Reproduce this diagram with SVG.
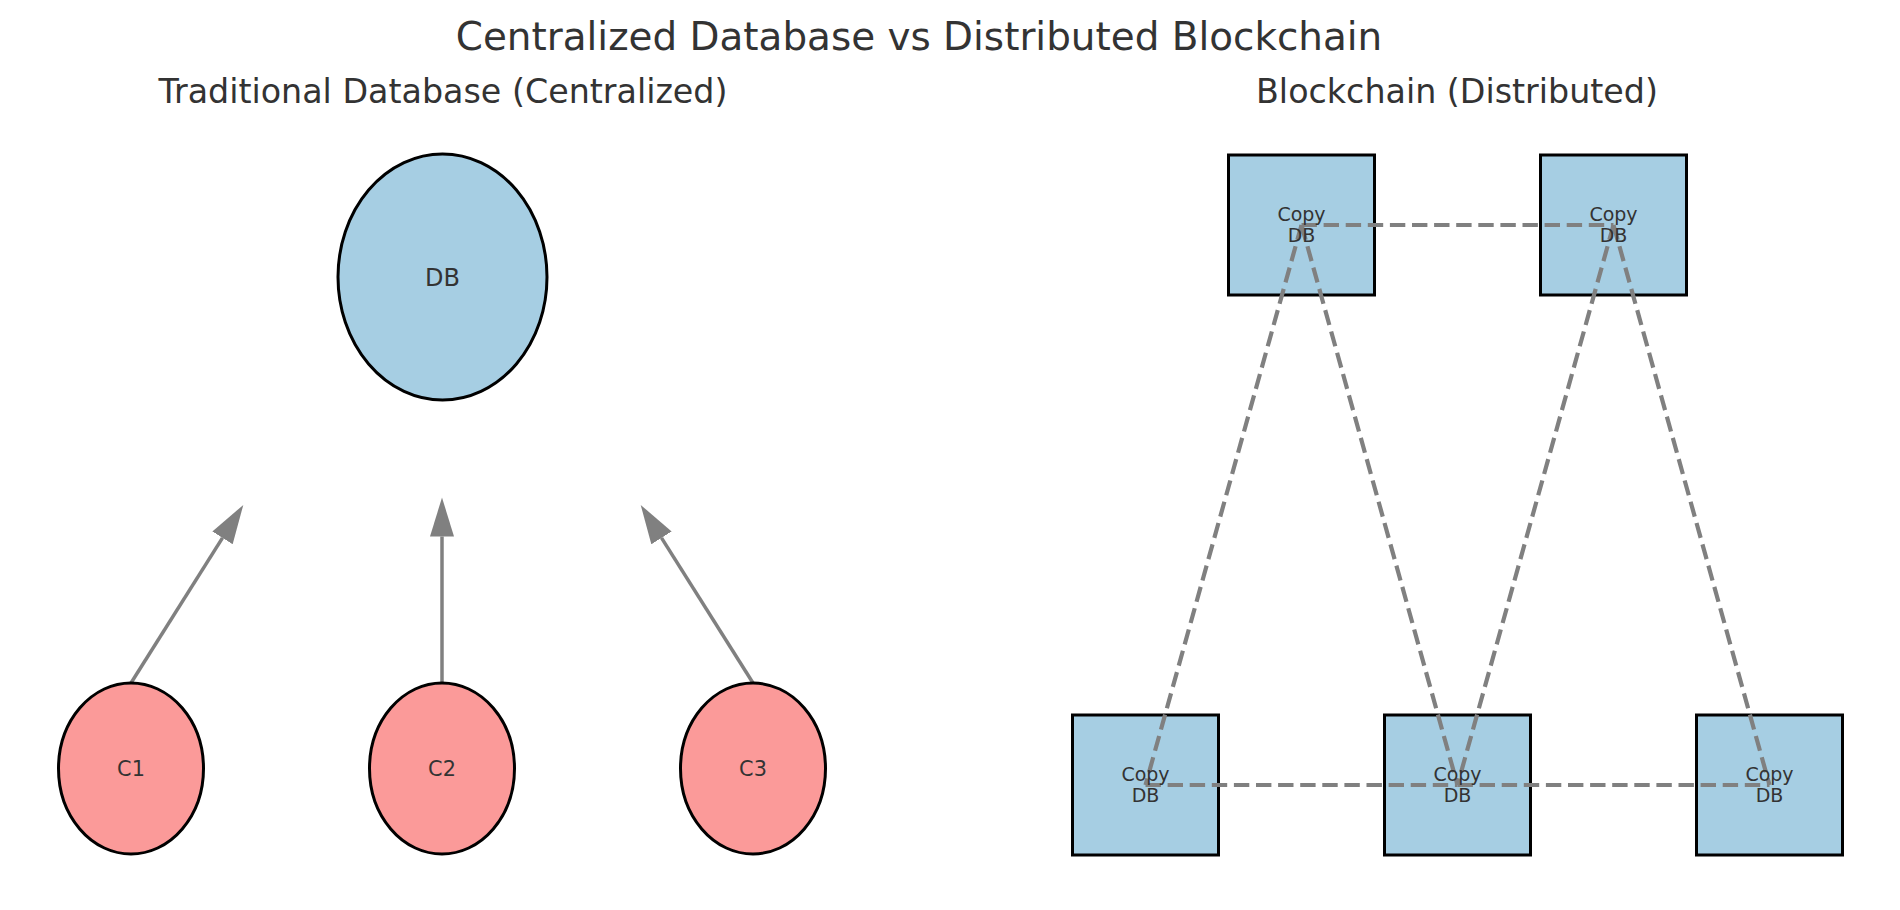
<svg xmlns="http://www.w3.org/2000/svg" width="1900" height="910" viewBox="0 0 1900 910">
<defs>
<style>
text{font-family:"DejaVu Sans","Liberation Sans",sans-serif;fill:#333333;text-anchor:middle}
.title{font-size:38.9px}
.sub{font-size:33.3px}
.db{fill:#a6cee3;stroke:#000;stroke-width:3}
.client{fill:#fb9a99;stroke:#000;stroke-width:3}
.arrow{stroke:#808080;stroke-width:3.5;fill:none}
.dash{stroke:#808080;stroke-width:4.2;stroke-dasharray:15.4 6.7;fill:none}
.lbl{font-size:24px}
.clbl{font-size:20.8px}
.copy{font-size:19px}
</style>
<marker id="head" markerUnits="userSpaceOnUse" markerWidth="42" markerHeight="26" refX="0" refY="12.5" orient="auto">
<path d="M0,0.5 L39,12.5 L0,24.5 Z" fill="#808080"/>
</marker>
</defs>
<rect width="1900" height="910" fill="#ffffff"/>
<text class="title" x="919" y="50">Centralized Database vs Distributed Blockchain</text>
<text class="sub" x="443" y="103">Traditional Database (Centralized)</text>
<text class="sub" x="1457" y="103">Blockchain (Distributed)</text>

<g id="connectors">
<line class="arrow" x1="131" y1="683" x2="222.5" y2="537.9" marker-end="url(#head)"/>
<line class="arrow" x1="442" y1="683" x2="442" y2="536.5" marker-end="url(#head)"/>
<line class="arrow" x1="753" y1="683" x2="661.5" y2="537.9" marker-end="url(#head)"/>
</g>

<g id="db"><ellipse class="db" cx="442.5" cy="277" rx="104.5" ry="123"/><text class="lbl" x="442.5" y="285.7">DB</text></g>
<g id="c1"><ellipse class="client" cx="131" cy="768.5" rx="72.5" ry="85.5"/><text class="clbl" x="131" y="776">C1</text></g>
<g id="c2"><ellipse class="client" cx="442" cy="768.5" rx="72.5" ry="85.5"/><text class="clbl" x="442" y="776">C2</text></g>
<g id="c3"><ellipse class="client" cx="753" cy="768.5" rx="72.5" ry="85.5"/><text class="clbl" x="753" y="776">C3</text></g>

<g id="n1"><rect class="db" x="1228.5" y="155" width="146" height="140"/></g>
<g id="n2"><rect class="db" x="1540.5" y="155" width="146" height="140"/></g>
<g id="n3"><rect class="db" x="1072.5" y="715" width="146" height="140"/></g>
<g id="n4"><rect class="db" x="1384.5" y="715" width="146" height="140"/></g>
<g id="n5"><rect class="db" x="1696.5" y="715" width="146" height="140"/></g>

<g id="links">
<line class="dash" x1="1301.5" y1="225" x2="1613.5" y2="225"/>
<line class="dash" x1="1145.5" y1="785" x2="1457.5" y2="785"/>
<line class="dash" x1="1457.5" y1="785" x2="1769.5" y2="785"/>
<line class="dash" x1="1301.5" y1="225" x2="1145.5" y2="785"/>
<line class="dash" x1="1301.5" y1="225" x2="1457.5" y2="785"/>
<line class="dash" x1="1613.5" y1="225" x2="1457.5" y2="785"/>
<line class="dash" x1="1613.5" y1="225" x2="1769.5" y2="785"/>
</g>

<g id="labels">
<text class="copy" x="1301.5" y="220.7">Copy</text><text class="copy" x="1301.5" y="241.7">DB</text>
<text class="copy" x="1613.5" y="220.7">Copy</text><text class="copy" x="1613.5" y="241.7">DB</text>
<text class="copy" x="1145.5" y="780.7">Copy</text><text class="copy" x="1145.5" y="801.7">DB</text>
<text class="copy" x="1457.5" y="780.7">Copy</text><text class="copy" x="1457.5" y="801.7">DB</text>
<text class="copy" x="1769.5" y="780.7">Copy</text><text class="copy" x="1769.5" y="801.7">DB</text>
</g>
</svg>
